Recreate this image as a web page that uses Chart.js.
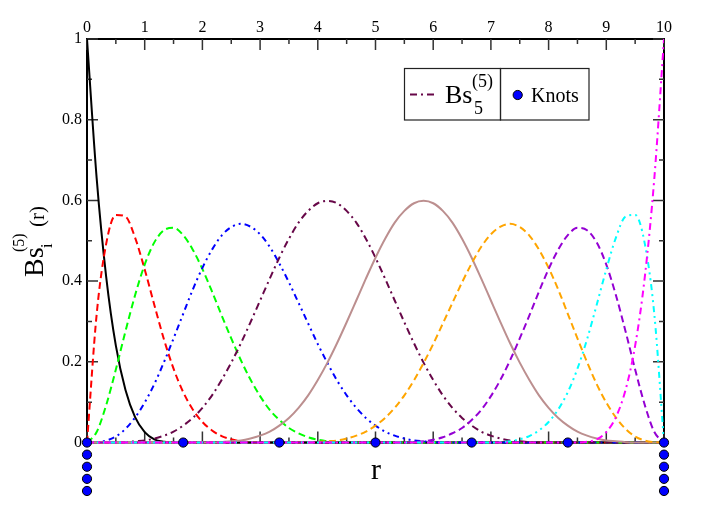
<!DOCTYPE html>
<html><head><meta charset="utf-8">
<script src="https://cdn.jsdelivr.net/npm/chart.js@4.4.1/dist/chart.umd.min.js"></script>
<style>html,body{margin:0;padding:0;background:#fff;overflow:hidden}#wrap{width:706px;height:513px}</style>
</head><body><div id="wrap"><canvas id="c" width="706" height="513"></canvas></div>
<script>
// r grid (x values)
const rValues = [
  0, 0.167, 0.333, 0.5, 0.667, 0.833, 1, 1.167, 1.333, 1.5,
  1.667, 1.833, 2, 2.167, 2.333, 2.5, 2.667, 2.833, 3, 3.167,
  3.333, 3.5, 3.667, 3.833, 4, 4.167, 4.333, 4.5, 4.667, 4.833,
  5, 5.167, 5.333, 5.5, 5.667, 5.833, 6, 6.167, 6.333, 6.5,
  6.667, 6.833, 7, 7.167, 7.333, 7.5, 7.667, 7.833, 8, 8.167,
  8.333, 8.5, 8.667, 8.833, 9, 9.167, 9.333, 9.5, 9.667, 9.833,
  10];
const bs1 = [
  1, 0.656, 0.41, 0.24, 0.13, 0.063, 0.026, 0.008, 0.002, 0,
  0, 0, 0, 0, 0, 0, 0, 0, 0, 0,
  0, 0, 0, 0, 0, 0, 0, 0, 0, 0,
  0, 0, 0, 0, 0, 0, 0, 0, 0, 0,
  0, 0, 0, 0, 0, 0, 0, 0, 0, 0,
  0, 0, 0, 0, 0, 0, 0, 0, 0, 0,
  0];
const bs2 = [
  0, 0.317, 0.493, 0.564, 0.56, 0.508, 0.429, 0.341, 0.256, 0.183,
  0.125, 0.082, 0.051, 0.03, 0.016, 0.008, 0.003, 0.001, 0, 0,
  0, 0, 0, 0, 0, 0, 0, 0, 0, 0,
  0, 0, 0, 0, 0, 0, 0, 0, 0, 0,
  0, 0, 0, 0, 0, 0, 0, 0, 0, 0,
  0, 0, 0, 0, 0, 0, 0, 0, 0, 0,
  0];
const bs3 = [
  0, 0.026, 0.093, 0.181, 0.276, 0.365, 0.441, 0.496, 0.526, 0.532,
  0.514, 0.478, 0.43, 0.374, 0.315, 0.258, 0.204, 0.156, 0.115, 0.081,
  0.056, 0.036, 0.023, 0.013, 0.007, 0.003, 0.001, 0, 0, 0,
  0, 0, 0, 0, 0, 0, 0, 0, 0, 0,
  0, 0, 0, 0, 0, 0, 0, 0, 0, 0,
  0, 0, 0, 0, 0, 0, 0, 0, 0, 0,
  0];
const bs4 = [
  0, 0.001, 0.005, 0.015, 0.034, 0.062, 0.099, 0.145, 0.199, 0.258,
  0.319, 0.379, 0.433, 0.478, 0.513, 0.534, 0.542, 0.535, 0.516, 0.485,
  0.444, 0.397, 0.346, 0.295, 0.244, 0.197, 0.154, 0.117, 0.086, 0.061,
  0.042, 0.027, 0.017, 0.01, 0.005, 0.003, 0.001, 0, 0, 0,
  0, 0, 0, 0, 0, 0, 0, 0, 0, 0,
  0, 0, 0, 0, 0, 0, 0, 0, 0, 0,
  0];
const bs5 = [
  0, 0, 0, 0, 0.001, 0.003, 0.005, 0.01, 0.017, 0.027,
  0.042, 0.061, 0.086, 0.117, 0.155, 0.198, 0.246, 0.298, 0.352, 0.406,
  0.458, 0.505, 0.545, 0.574, 0.593, 0.599, 0.593, 0.574, 0.545, 0.505,
  0.458, 0.406, 0.352, 0.298, 0.246, 0.198, 0.155, 0.117, 0.086, 0.061,
  0.042, 0.027, 0.017, 0.01, 0.005, 0.003, 0.001, 0, 0, 0,
  0, 0, 0, 0, 0, 0, 0, 0, 0, 0,
  0];
const bs6 = [
  0, 0, 0, 0, 0, 0, 0, 0, 0, 0,
  0, 0, 0, 0, 0.001, 0.003, 0.005, 0.01, 0.017, 0.027,
  0.042, 0.061, 0.086, 0.117, 0.155, 0.198, 0.246, 0.298, 0.352, 0.406,
  0.458, 0.505, 0.545, 0.574, 0.593, 0.599, 0.593, 0.574, 0.545, 0.505,
  0.458, 0.406, 0.352, 0.298, 0.246, 0.198, 0.155, 0.117, 0.086, 0.061,
  0.042, 0.027, 0.017, 0.01, 0.005, 0.003, 0.001, 0, 0, 0,
  0];
const bs7 = [
  0, 0, 0, 0, 0, 0, 0, 0, 0, 0,
  0, 0, 0, 0, 0, 0, 0, 0, 0, 0,
  0, 0, 0, 0, 0.001, 0.003, 0.005, 0.01, 0.017, 0.027,
  0.042, 0.061, 0.086, 0.117, 0.154, 0.197, 0.244, 0.295, 0.346, 0.397,
  0.444, 0.485, 0.516, 0.535, 0.542, 0.534, 0.513, 0.478, 0.433, 0.379,
  0.319, 0.258, 0.199, 0.145, 0.099, 0.062, 0.034, 0.015, 0.005, 0.001,
  0];
const bs8 = [
  0, 0, 0, 0, 0, 0, 0, 0, 0, 0,
  0, 0, 0, 0, 0, 0, 0, 0, 0, 0,
  0, 0, 0, 0, 0, 0, 0, 0, 0, 0,
  0, 0, 0, 0, 0.001, 0.003, 0.007, 0.013, 0.023, 0.036,
  0.056, 0.081, 0.115, 0.156, 0.204, 0.258, 0.315, 0.374, 0.43, 0.478,
  0.514, 0.532, 0.526, 0.496, 0.441, 0.365, 0.276, 0.181, 0.093, 0.026,
  0];
const bs9 = [
  0, 0, 0, 0, 0, 0, 0, 0, 0, 0,
  0, 0, 0, 0, 0, 0, 0, 0, 0, 0,
  0, 0, 0, 0, 0, 0, 0, 0, 0, 0,
  0, 0, 0, 0, 0, 0, 0, 0, 0, 0,
  0, 0, 0, 0.001, 0.003, 0.008, 0.016, 0.03, 0.051, 0.082,
  0.125, 0.183, 0.256, 0.341, 0.429, 0.508, 0.56, 0.564, 0.493, 0.317,
  0];
const bs10 = [
  0, 0, 0, 0, 0, 0, 0, 0, 0, 0,
  0, 0, 0, 0, 0, 0, 0, 0, 0, 0,
  0, 0, 0, 0, 0, 0, 0, 0, 0, 0,
  0, 0, 0, 0, 0, 0, 0, 0, 0, 0,
  0, 0, 0, 0, 0, 0, 0, 0, 0, 0,
  0, 0, 0.002, 0.008, 0.026, 0.063, 0.13, 0.24, 0.41, 0.656,
  1];
const seriesNames = ['Bs1','Bs2','Bs3','Bs4','Bs5','Bs6','Bs7','Bs8','Bs9','Bs10'];
const seriesValues = [bs1, bs2, bs3, bs4, bs5, bs6, bs7, bs8, bs9, bs10];

// knots (with multiplicity shown stacked below the axis)
const knotR = [0, 0, 0, 0, 0, 1.667, 3.333, 5, 6.667, 8.333, 10, 10, 10, 10, 10];
const knotY = [0, -0.03, -0.06, -0.09, -0.12, 0, 0, 0, 0, 0, 0, -0.03, -0.06, -0.09, -0.12];

// axis ticks
const xMajorTicks = [0, 1, 2, 3, 4, 5, 6, 7, 8, 9, 10];
const xMinorTicks = [0.5, 1.5, 2.5, 3.5, 4.5, 5.5, 6.5, 7.5, 8.5, 9.5];
const yMajorTicks = [0, 0.2, 0.4, 0.6, 0.8, 1];
const yMinorTicks = [0.1, 0.3, 0.5, 0.7, 0.9];

// styles
const colors = ['#000000','#ff0000','#00ff00','#0000ff','#670748','#bc8f8f','#ffa500','#9400d3','#00ffff','#ff00ff'];
const DASH = [7, 4], DDOT = [6, 4, 2, 4, 2, 4], DDOT1 = [7, 4, 2, 4];
const dashes = [[], DASH, DASH, DDOT, DDOT1, [], DASH, DASH, DDOT, DDOT1];
const SERIF = "'Liberation Serif','Times New Roman','DejaVu Serif',serif";

const datasets = seriesValues.map((vals, i) => ({
  label: seriesNames[i],
  data: rValues.map((r, j) => ({x: r, y: vals[j]})),
  borderColor: colors[i],
  borderWidth: 2,
  borderDash: dashes[i],
  pointRadius: 0,
  fill: false,
  cubicInterpolationMode: 'monotone',
  order: -i
}));
datasets.push({
  label: 'Knots',
  data: knotR.map((r, j) => ({x: r, y: knotY[j]})),
  showLine: false,
  clip: false,
  pointRadius: 4.6,
  pointBackgroundColor: '#0000ff',
  pointBorderColor: '#000000',
  pointBorderWidth: 1,
  order: -100
});

const framePlugin = {
  id: 'frame',
  beforeDatasetsDraw(chart) {
    const {ctx, scales: {x, y}} = chart;
    const L = x.getPixelForValue(0), R = x.getPixelForValue(10);
    const T = y.getPixelForValue(1), B = y.getPixelForValue(0);
    ctx.save();
    ctx.strokeStyle = '#000';
    ctx.lineWidth = 2;
    ctx.strokeRect(L, T, R - L, B - T);
    ctx.lineWidth = 1.5;
    ctx.strokeStyle = '#333';
    ctx.beginPath();
    const tx = (v, len) => { const p = x.getPixelForValue(v); ctx.moveTo(p, T); ctx.lineTo(p, T + len); ctx.moveTo(p, B); ctx.lineTo(p, B - len); };
    const ty = (v, len) => { const p = y.getPixelForValue(v); ctx.moveTo(L, p); ctx.lineTo(L + len, p); ctx.moveTo(R, p); ctx.lineTo(R - len, p); };
    xMajorTicks.forEach(v => tx(v, 11));
    xMinorTicks.forEach(v => tx(v, 5));
    yMajorTicks.forEach(v => ty(v, 11));
    yMinorTicks.forEach(v => ty(v, 5));
    ctx.stroke();
    ctx.restore();
  }
};

const textPlugin = {
  id: 'texts',
  afterDraw(chart) {
    const {ctx} = chart;
    ctx.save();
    ctx.fillStyle = '#000';
    ctx.textBaseline = 'alphabetic';
    ctx.textAlign = 'left';
    // x title
    ctx.font = '30px ' + SERIF;
    ctx.textAlign = 'center';
    ctx.fillText('r', 376, 479);
    ctx.textAlign = 'left';
    // y title (rotated)
    ctx.save();
    ctx.translate(43, 277);
    ctx.rotate(-Math.PI / 2);
    ctx.font = '28px ' + SERIF;
    ctx.fillText('Bs', 0, 0);
    ctx.font = '16px ' + SERIF;
    ctx.fillText('(5)', 25, -19);
    ctx.fillText('i', 29, 9);
    ctx.font = '21px ' + SERIF;
    ctx.fillText('(r)', 50, 1);
    ctx.restore();
    // legend boxes
    ctx.strokeStyle = '#222';
    ctx.lineWidth = 1.2;
    ctx.strokeRect(404.5, 68.5, 96, 51.5);
    ctx.strokeRect(500.5, 68.5, 88.5, 51.5);
    // legend line sample
    ctx.save();
    ctx.strokeStyle = colors[4];
    ctx.lineWidth = 2;
    ctx.setLineDash(DDOT1);
    ctx.beginPath();
    ctx.moveTo(410, 94.5);
    ctx.lineTo(436, 94.5);
    ctx.stroke();
    ctx.restore();
    ctx.font = '26px ' + SERIF;
    ctx.fillText('Bs', 445, 103);
    ctx.font = '18px ' + SERIF;
    ctx.fillText('(5)', 472, 87);
    ctx.fillText('5', 474, 114);
    // knots legend
    ctx.beginPath();
    ctx.arc(517.7, 95, 4.6, 0, Math.PI * 2);
    ctx.fillStyle = '#0000ff';
    ctx.fill();
    ctx.lineWidth = 1;
    ctx.strokeStyle = '#000';
    ctx.stroke();
    ctx.fillStyle = '#000';
    ctx.font = '20px ' + SERIF;
    ctx.fillText('Knots', 531, 102);
    ctx.restore();
  }
};

new Chart(document.getElementById('c'), {
  type: 'line',
  data: {datasets},
  options: {
    responsive: false,
    animation: false,
    devicePixelRatio: 1,
    layout: {padding: {left: 0, top: 0, right: 42, bottom: 18}},
    plugins: {legend: {display: false}, tooltip: {enabled: false}},
    scales: {
      x: {
        type: 'linear', position: 'top', min: 0, max: 10,
        afterBuildTicks: s => { s.ticks = xMajorTicks.map(v => ({value: v})); },
        afterFit: s => { s.height = 39; },
        grid: {display: false, drawTicks: false}, border: {display: false},
        ticks: {font: {family: SERIF, size: 16}, color: '#000', padding: 2, maxRotation: 0, autoSkip: false,
                callback: v => String(v)}
      },
      y: {
        type: 'linear', position: 'left', min: -0.13, max: 1,
        afterBuildTicks: s => { s.ticks = yMajorTicks.map(v => ({value: v})); },
        afterFit: s => { s.width = 87; },
        grid: {display: false, drawTicks: false}, border: {display: false},
        ticks: {font: {family: SERIF, size: 16}, color: '#000', padding: 5,
                callback: v => String(v)}
      }
    }
  },
  plugins: [framePlugin, textPlugin]
});
</script></body></html>
